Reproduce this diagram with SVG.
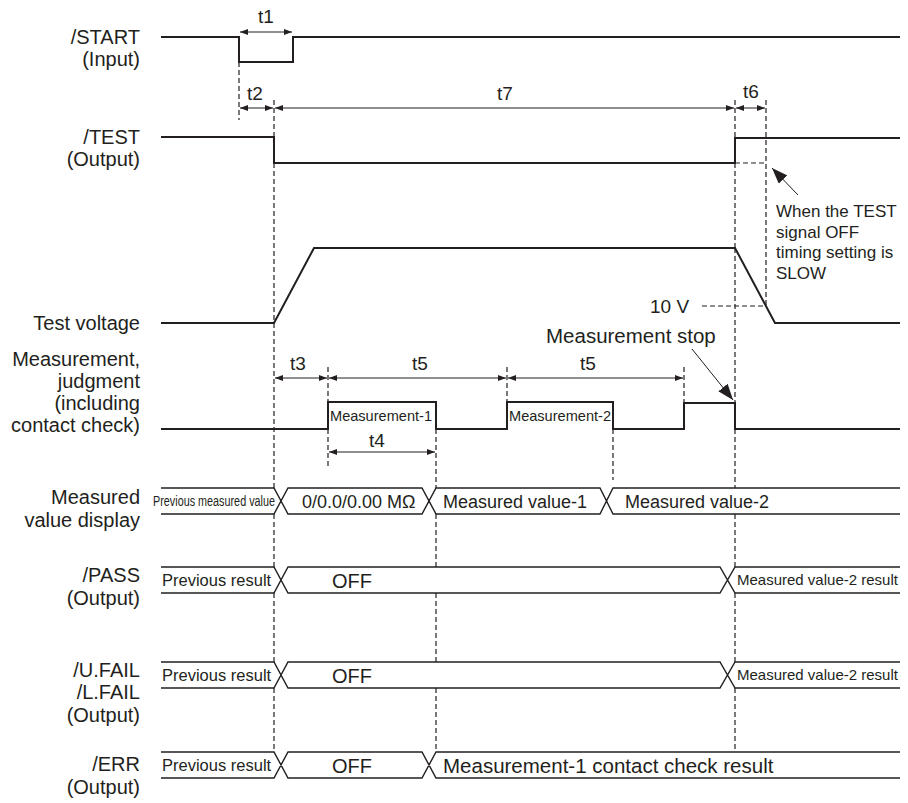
<svg xmlns="http://www.w3.org/2000/svg" width="908" height="803" viewBox="0 0 908 803">
<style>
text{font-family:"Liberation Sans",Arial,sans-serif;fill:#231f20}
.lbl{font-size:20px;text-anchor:end}
.t{font-size:19px;text-anchor:middle}
.sig{fill:none;stroke:#231f20;stroke-width:2}
.bus{fill:none;stroke:#231f20;stroke-width:1.4}
.dash{fill:none;stroke:#231f20;stroke-width:1.2;stroke-dasharray:5,3}
.dim{fill:none;stroke:#231f20;stroke-width:1;marker-start:url(#a);marker-end:url(#a)}
.bt{font-size:16.5px}
.br{font-size:15px}
.bv{font-size:18px}
.off{font-size:20px}
</style>
<defs>
<marker id="a" viewBox="0 0 8 6" refX="8" refY="3" markerWidth="8" markerHeight="6" markerUnits="userSpaceOnUse" orient="auto-start-reverse"><path d="M0,0 L8,3 L0,6 z" fill="#231f20"/></marker>
<marker id="b" viewBox="0 0 16 12" refX="16" refY="6" markerWidth="16" markerHeight="12" markerUnits="userSpaceOnUse" orient="auto"><path d="M0,0 L16,6 L0,12 z" fill="#231f20"/></marker>
</defs>
<rect width="908" height="803" fill="#ffffff"/>

<g id="start">
<text class="lbl" x="140" y="44">/START</text>
<text class="lbl" x="140" y="66">(Input)</text>
<path class="sig" d="M161,37 H239 V62 H293 V37 H900"/>
</g>

<g id="test">
<text class="lbl" x="140" y="144">/TEST</text>
<text class="lbl" x="140" y="166">(Output)</text>
<path class="sig" d="M161,137 H274 V163 H735 V138 H900"/>
</g>

<g id="voltage">
<text class="lbl" x="140" y="330">Test voltage</text>
<path class="sig" d="M161,323 H274 L314,248 H735 L775,323 H900"/>
</g>

<g id="measurement">
<text class="lbl" x="140" y="366">Measurement,</text>
<text class="lbl" x="140" y="388">judgment</text>
<text class="lbl" x="140" y="410">(including</text>
<text class="lbl" x="140" y="432">contact check)</text>
<path class="sig" d="M161,429 H328 V402 H436 V429 H507 V402 H613 V429 H684 V403 H735 V429 H900"/>
<text x="330" y="421" font-size="15" textLength="102" lengthAdjust="spacingAndGlyphs">Measurement-1</text>
<text x="509" y="421" font-size="15" textLength="102" lengthAdjust="spacingAndGlyphs">Measurement-2</text>
</g>

<g id="display">
<text class="lbl" x="140" y="504">Measured</text>
<text class="lbl" x="140" y="527">value display</text>
<path class="bus" d="M161,488 H274 L288,514 H422 L436,488 H600 L613,514 H900 M161,514 H274 L288,488 H422 L436,514 H600 L613,488 H900"/>
<text x="153" y="506" font-size="14" textLength="122" lengthAdjust="spacingAndGlyphs">Previous measured value</text>
<text class="bv" x="302" y="508">0/0.0/0.00 MΩ</text>
<text class="bv" x="443" y="508">Measured value-1</text>
<text class="bv" x="625" y="508">Measured value-2</text>
</g>

<g id="pass">
<text class="lbl" x="140" y="582">/PASS</text>
<text class="lbl" x="140" y="605">(Output)</text>
<path class="bus" d="M161,567 H274 L288,593 H720 L735,567 H900 M161,593 H274 L288,567 H720 L735,593 H900"/>
<text class="bt" x="162" y="586">Previous result</text>
<text class="off" x="332" y="588">OFF</text>
<text class="br" x="737" y="585">Measured value-2 result</text>
</g>

<g id="fail">
<text class="lbl" x="140" y="677">/U.FAIL</text>
<text class="lbl" x="140" y="699">/L.FAIL</text>
<text class="lbl" x="140" y="722">(Output)</text>
<path class="bus" d="M161,662 H274 L288,688 H720 L735,662 H900 M161,688 H274 L288,662 H720 L735,688 H900"/>
<text class="bt" x="162" y="681">Previous result</text>
<text class="off" x="332" y="683">OFF</text>
<text class="br" x="737" y="680">Measured value-2 result</text>
</g>

<g id="err">
<text class="lbl" x="140" y="771">/ERR</text>
<text class="lbl" x="140" y="794">(Output)</text>
<path class="bus" d="M161,752 H274 L288,778 H422 L436,752 H900 M161,778 H274 L288,752 H422 L436,778 H900"/>
<text class="bt" x="162" y="771">Previous result</text>
<text class="off" x="332" y="773">OFF</text>
<text x="443" y="773" font-size="20.5">Measurement-1 contact check result</text>
</g>

<g id="connectors">
<path class="dash" d="M239,62 V120"/>
<path class="dash" d="M274,100 V137 M274,163 V323 M274,323 V488 M274,514 V567 M274,593 V662 M274,688 V752"/>
<path class="dash" d="M735,100 V138 M735,163 V248 M735,248 V403 M735,429 V488 M735,514 V567 M735,593 V662 M735,688 V752"/>
<path class="dash" d="M766,100 V308"/>
<path class="dash" d="M735,163 H766"/>
<path class="dash" d="M702,306 H766"/>
<path class="dash" d="M328,367 V402 M328,429 V467"/>
<path class="dash" d="M436,429 V488 M436,514 V567 M436,593 V662 M436,688 V752"/>
<path class="dash" d="M507,367 V402"/>
<path class="dash" d="M684,367 V403"/>
<path class="dash" d="M613,429 V480"/>
<line class="dim" x1="240" y1="32" x2="292" y2="32"/>
<line class="dim" x1="240" y1="108" x2="273" y2="108"/>
<line class="dim" x1="275" y1="108" x2="734" y2="108"/>
<line class="dim" x1="736" y1="108" x2="765" y2="108"/>
<line class="dim" x1="275" y1="378" x2="327" y2="378"/>
<line class="dim" x1="329" y1="378" x2="506" y2="378"/>
<line class="dim" x1="508" y1="378" x2="683" y2="378"/>
<line class="dim" x1="329" y1="452" x2="435" y2="452"/>
<line x1="798" y1="195" x2="772" y2="168" stroke="#231f20" stroke-width="1" marker-end="url(#b)"/>
<line x1="692" y1="349" x2="733" y2="400" stroke="#231f20" stroke-width="1" marker-end="url(#b)"/>
<text class="t" x="266" y="23">t1</text>
<text class="t" x="255" y="100">t2</text>
<text class="t" x="505" y="100">t7</text>
<text class="t" x="751" y="98">t6</text>
<text class="t" x="298" y="370">t3</text>
<text class="t" x="420" y="370">t5</text>
<text class="t" x="588" y="370">t5</text>
<text class="t" x="377" y="447">t4</text>
<text x="650" y="313" font-size="19">10 V</text>
<text x="546" y="343" font-size="20.5">Measurement stop</text>
<text x="776" y="217" font-size="17">When the TEST</text>
<text x="776" y="238" font-size="17">signal OFF</text>
<text x="776" y="258" font-size="17">timing setting is</text>
<text x="776" y="279" font-size="17">SLOW</text>
</g>
</svg>
